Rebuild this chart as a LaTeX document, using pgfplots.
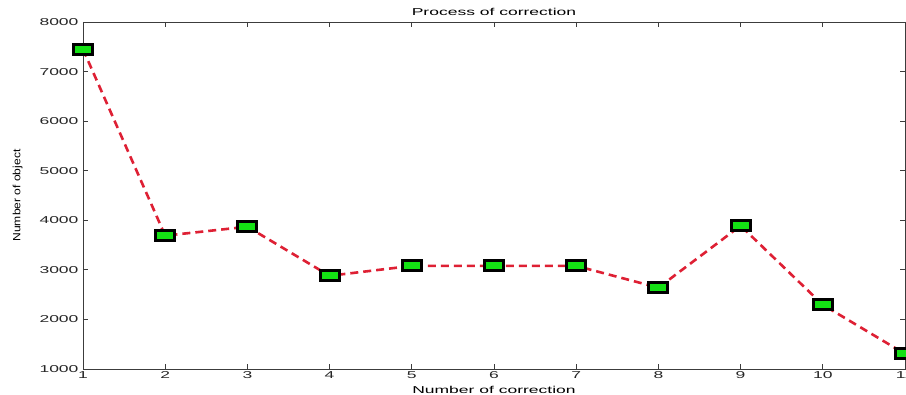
\documentclass[border=0pt]{standalone}
\usepackage{pgfplots}
\pgfplotsset{compat=1.18}
\usepackage{fontspec}
\setmainfont[FakeStretch=1.75]{Liberation Sans}
\newfontfamily\plainfont[FakeStretch=1.15]{Liberation Sans}
\definecolor{lred}{RGB}{222,32,52}
\definecolor{mgreen}{RGB}{20,225,20}
\definecolor{axgray}{RGB}{60,60,60}
\begin{document}
\begin{tikzpicture}
\useasboundingbox (-83pt,-26pt) rectangle (823pt,369pt);
\begin{axis}[
  at={(0pt,0pt)}, anchor=south west,
  scale only axis,
  width=822pt, height=347pt,
  xmin=1, xmax=11, ymin=1000, ymax=8000,
  xtick={1,2,...,11},
  ytick={1000,2000,...,8000},
  tick align=inside,
  major tick length=5pt,
  axis line style={axgray, line width=0.8pt},
  tick style={axgray, line width=0.8pt},
  /pgf/number format/assume math mode=true,
  /pgf/number format/1000 sep={},
  ticklabel style={font=\fontsize{10}{12}\selectfont, text=black!85},
  xticklabel style={yshift=1pt},
  yticklabel style={xshift=-1pt},
  title={Process of correction},
  title style={font=\fontsize{10}{12}\selectfont, yshift=-3pt},
  xlabel={Number of correction},
  xlabel style={font=\fontsize{10}{12}\selectfont, yshift=-1pt},
  ylabel={Number of object},
  ylabel style={font=\plainfont\fontsize{10.5}{12}\selectfont, yshift=10pt},
  clip=false,
]
\addplot[lred, line width=2.6pt, dash pattern=on 8pt off 5pt,
  mark=square*, mark size=5pt,
  mark options={solid, xscale=1.9, draw=black, fill=mgreen, line width=3pt}]
  coordinates {
  (1,7450) (2,3690) (3,3870) (4,2880) (5,3080) (6,3080)
  (7,3080) (8,2640) (9,3890) (10,2295) (11,1305)
  };
\end{axis}
\end{tikzpicture}
\end{document}
